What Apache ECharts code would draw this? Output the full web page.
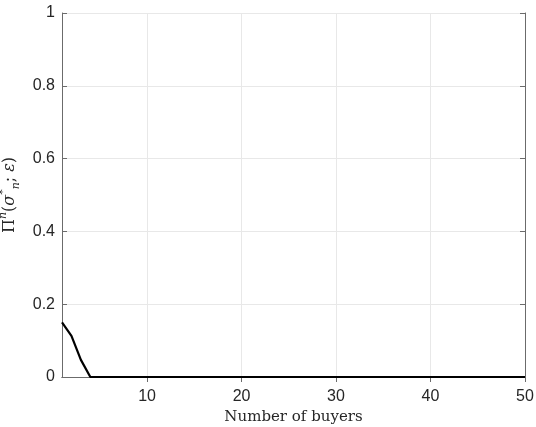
<!DOCTYPE html>
<html><head><meta charset="utf-8">
<script src="https://cdn.jsdelivr.net/npm/echarts@6/dist/echarts.min.js"></script>
<style>html,body{margin:0;padding:0;background:#fff}#c{width:536px;height:427px}</style>
</head><body><div id="c"></div>
<script>
const buyers = [];
for (let n = 1; n <= 50; n++) buyers.push(n);
const headValues = [0.15, 0.113, 0.047];
const profit = buyers.map((n, i) => i < headValues.length ? headValues[i] : 0);
const xTicks = [10, 20, 30, 40, 50];
const yTicks = [0, 0.2, 0.4, 0.6, 0.8, 1];

const axisColor = '#6b6b6b';
const gridColor = '#e8e8e8';
const tickFont = {fontFamily: 'Liberation Sans, Arial, sans-serif', fontSize: 16, color: '#262626'};
const serif = 'DejaVu Serif, Liberation Serif, serif';

const chart = echarts.init(document.getElementById('c'));
chart.setOption({
  animation: false,
  grid: {left: 62, right: 11, top: 13, bottom: 50, containLabel: false, outerBoundsMode: 'none'},
  xAxis: [{
    type: 'value', min: 1, max: 50, position: 'bottom',
    name: 'Number of buyers', nameLocation: 'middle', nameGap: 33,
    nameTextStyle: {fontFamily: serif, fontSize: 15, color: '#262626'},
    axisLine: {show: true, lineStyle: {color: axisColor, width: 1}},
    axisTick: {show: true, inside: true, length: 5, customValues: xTicks, lineStyle: {color: axisColor}},
    axisLabel: {show: true, customValues: xTicks, margin: 12, ...tickFont},
    splitLine: {show: false}
  }, {
    type: 'value', min: 1, max: 50, position: 'top',
    axisLine: {show: true, lineStyle: {color: axisColor, width: 1}},
    axisTick: {show: true, inside: true, length: 5, customValues: xTicks, lineStyle: {color: axisColor}},
    axisLabel: {show: false, customValues: xTicks},
    splitLine: {show: false}
  }],
  yAxis: [{
    type: 'value', min: 0, max: 1, interval: 0.2, position: 'left',
    name: '{a|Π}{sup|n}{a|(}{i|σ}{sup|*}{sub|n}{a|; }{i|ε}{a|)}',
    nameLocation: 'middle', nameGap: 37, nameRotate: 90,
    nameTextStyle: {
      rich: {
        a: {fontFamily: serif, fontSize: 16, color: '#262626', lineHeight: 24, verticalAlign: 'middle'},
        i: {fontFamily: serif, fontStyle: 'italic', fontSize: 16, color: '#262626', lineHeight: 24, verticalAlign: 'middle'},
        sup: {fontFamily: serif, fontStyle: 'italic', fontSize: 11, color: '#262626', lineHeight: 24, verticalAlign: 'top'},
        sub: {fontFamily: serif, fontStyle: 'italic', fontSize: 11, color: '#262626', lineHeight: 24, verticalAlign: 'bottom'}
      }
    },
    axisLine: {show: true, lineStyle: {color: axisColor, width: 1}},
    axisTick: {show: true, inside: true, length: 5, lineStyle: {color: axisColor}},
    axisLabel: {show: true, margin: 7, formatter: v => String(+v.toFixed(1)), ...tickFont},
    splitLine: {show: true, lineStyle: {color: gridColor, width: 1}}
  }, {
    type: 'value', min: 0, max: 1, interval: 0.2, position: 'right',
    axisLine: {show: true, lineStyle: {color: axisColor, width: 1}},
    axisTick: {show: true, inside: true, length: 5, lineStyle: {color: axisColor}},
    axisLabel: {show: false},
    splitLine: {show: false}
  }],
  series: [{
    type: 'line', xAxisIndex: 0, yAxisIndex: 0,
    data: buyers.map((n, i) => [n, profit[i]]),
    showSymbol: false, symbol: 'none',
    lineStyle: {color: '#000', width: 2.2},
    z: 5
  }, {
    type: 'line', xAxisIndex: 0, yAxisIndex: 0, data: [],
    markLine: {
      silent: true, symbol: 'none', label: {show: false},
      lineStyle: {color: gridColor, width: 1, type: 'solid'},
      data: xTicks.slice(0, -1).map(v => ({xAxis: v}))
    }
  }]
});
</script></body></html>
